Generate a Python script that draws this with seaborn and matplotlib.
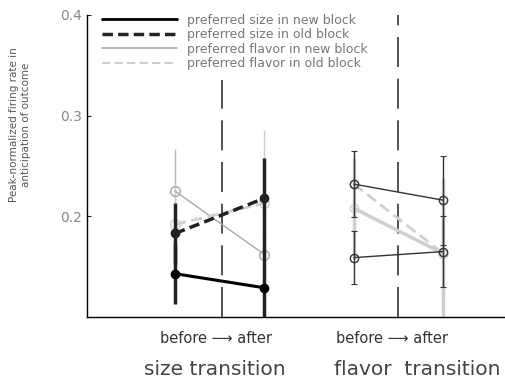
import matplotlib
matplotlib.use("Agg")
import matplotlib.pyplot as plt
import seaborn as sns
import pandas as pd
from matplotlib.lines import Line2D

# ---- data ----
conditions = ["size before", "size after", "flavor before", "flavor after"]
x_size = [1, 2]
x_flavor = [3, 4]

size_new_block = [0.143, 0.129]
size_new_err = [0.030, 0.050]
size_old_block = [0.183, 0.218]
size_old_err = [0.030, 0.040]
size_flav_new = [0.225, 0.162]
size_flav_new_err = [0.042, 0.070]
size_flav_old = [0.192, 0.213]
size_flav_old_err = [0.040, 0.073]

flav_upper = [0.232, 0.216]
flav_upper_err = [0.033, 0.044]
flav_lower = [0.159, 0.165]
flav_lower_err = [0.026, 0.035]
flav_gray_solid = [0.208, 0.163]
flav_gray_solid_err = [0.050, 0.075]
flav_gray_dashed = [0.232, 0.163]
flav_gray_dashed_err = [0.030, 0.075]

legend_labels = ["preferred size in new block", "preferred size in old block",
                 "preferred flavor in new block", "preferred flavor in old block"]
yticks = [0.2, 0.3, 0.4]
group_labels = ["size transition", "flavor  transition"]
ba_label = "before \u27f6 after"

sns.set_style("white")
plt.rcParams['font.family'] = ['DejaVu Sans']

fig = plt.figure(figsize=(5.05, 3.83), dpi=100)
ax = fig.add_axes([87/505, 1-317/383, 1-87/505, (317-15)/383])

GRAY = "#b8b8b8"
LGRAY = "#cfcfcf"

def series(x, y, err, color, lw, ls, mfc, ms, ecolor, elw, z=2, capsize=0):
    df = pd.DataFrame({"x": x, "y": y})
    ax.errorbar(x, y, yerr=err, fmt="none", ecolor=ecolor, elinewidth=elw,
                capsize=capsize, capthick=0.8, zorder=z-0.5)
    sns.lineplot(data=df, x="x", y="y", ax=ax, color=color, lw=lw,
                 linestyle=ls, marker="o", markersize=ms, markerfacecolor=mfc,
                 markeredgecolor=color, markeredgewidth=1.0, zorder=z,
                 estimator=None, sort=False)

# size transition
series(x_size, size_flav_new, size_flav_new_err, "#a8a8a8", 1.0, "-", "none", 7, GRAY, 1.0, z=2)
series(x_size, size_flav_old, size_flav_old_err, LGRAY, 2.0, (0, (4, 2)), "none", 7, LGRAY, 1.0, z=2)
series(x_size, size_new_block, size_new_err, "black", 2.2, "-", "black", 6, "#222222", 2.5, z=3)
series(x_size, size_old_block, size_old_err, "#222222", 2.5, (0, (3, 1.5)), "#222222", 6, "#222222", 2.5, z=3)

# flavor transition
series(x_flavor, flav_gray_solid, flav_gray_solid_err, LGRAY, 2.5, "-", "none", 6, LGRAY, 2.5, z=2)
series(x_flavor, flav_gray_dashed, flav_gray_dashed_err, LGRAY, 2.0, (0, (4, 2)), "none", 6, LGRAY, 1.0, z=2)
series(x_flavor, flav_upper, flav_upper_err, "#333333", 1.0, "-", "none", 6, "#333333", 1.0, z=3, capsize=2)
series(x_flavor, flav_lower, flav_lower_err, "#333333", 1.0, "-", "none", 6, "#333333", 1.0, z=3, capsize=2)

# dividers
ax.plot([1.53, 1.53], [0.1, 0.335], color="#333333", lw=1.2, ls=(0, (18, 7)), zorder=1)
ax.plot([3.49, 3.49], [0.1, 0.403], color="#333333", lw=1.2, ls=(0, (18, 7)), zorder=1)

ax.set_xlim(0.015, 4.69)
ax.set_ylim(0.1, 0.4)
ax.set_yticks(yticks)
ax.set_yticklabels([f"{v:.1f}" for v in yticks], color="#888888", fontsize=10)
ax.set_xticks([])
ax.tick_params(axis="y", direction="in", length=3, width=0.8, left=True)
for s in ["top", "right"]:
    ax.spines[s].set_visible(False)
for s in ["left", "bottom"]:
    ax.spines[s].set_color("black")
    ax.spines[s].set_linewidth(1.0)
ax.set_xlabel("")
ax.set_ylabel("Peak-normalized firing rate in\nanticipation of outcome",
              fontsize=7.5, color="#555555")
ax.yaxis.set_label_coords(-0.135, 0.636)

# x annotations
for xc in [1.46, 3.43]:
    ax.text(xc, -0.07, ba_label, transform=ax.get_xaxis_transform(),
            ha="center", va="center", fontsize=10.5, color="#333333")
for xc, lab in zip([1.44, 3.71], group_labels):
    ax.text(xc, -0.175, lab, transform=ax.get_xaxis_transform(),
            ha="center", va="center", fontsize=14.5, color="#444444")

handles = [
    Line2D([], [], color="black", lw=2.0, ls="-"),
    Line2D([], [], color="#222222", lw=2.5, ls=(0, (3, 1.5))),
    Line2D([], [], color=GRAY, lw=1.5, ls="-"),
    Line2D([], [], color=LGRAY, lw=1.5, ls=(0, (4, 2))),
]
leg = ax.legend(handles, legend_labels, loc="upper left", bbox_to_anchor=(0.02, 1.025),
                frameon=False, fontsize=9, handlelength=6.0, labelspacing=0.12,
                handletextpad=0.8, borderaxespad=0.1)
for t in leg.get_texts():
    t.set_color("#777777")

fig.savefig("out.png", dpi=100)
